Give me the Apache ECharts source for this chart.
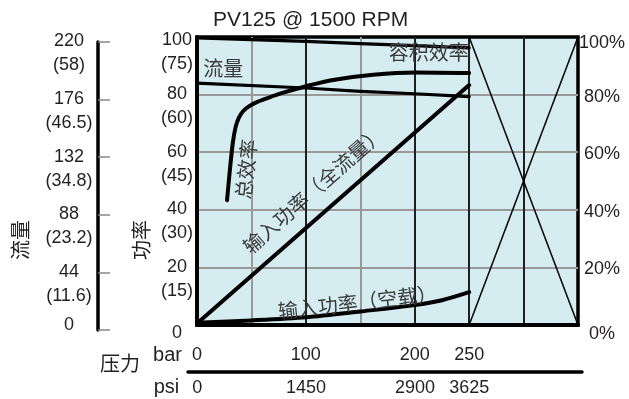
<!DOCTYPE html>
<html><head><meta charset="utf-8">
<script src="https://cdn.jsdelivr.net/npm/echarts@6/dist/echarts.min.js"></script>
<style>html,body{margin:0;padding:0;background:#fff}#c{width:629px;height:399px}</style>
</head><body><div id="c"></div><script>
// ---- chart data ----
const titleText = 'PV125 @ 1500 RPM';
const barTicks = [0, 100, 200, 250];
const psiTicks = [0, 1450, 2900, 3625];
const flowTicks = [0, 44, 88, 132, 176, 220];
const flowGpm = ['', '11.6', '23.2', '34.8', '46.5', '58'];
const powerTicks = [0, 20, 40, 60, 80, 100];
const powerHp = ['', '15', '30', '45', '60', '75'];
const majorBar = [100, 200, 250, 300];

const volEffX = [0, 100, 150, 200, 250];
const volEffY = [99.7, 98.5, 97.7, 97.0, 96.2];
const flowX = [0, 100, 150, 200, 250];
const flowY = [84.0, 82.3, 81.1, 80.3, 79.3];
const totEffX = [27.6, 30.5, 33.0, 35.5, 38.5, 42.5, 48.0, 55.0, 64.0, 77.6, 101.1, 125, 161.8, 201, 250];
const totEffY = [43.3, 55.0, 63.5, 68.8, 72.0, 74.3, 76.0, 77.4, 78.7, 80.5, 83.0, 85.1, 86.9, 87.7, 87.5];
const fullPowerX = [0, 250];
const fullPowerY = [0.5, 83.3];
const idlePowerX = [0, 50, 100, 150, 200, 225, 250];
const idlePowerY = [0.8, 1.6, 2.7, 4.7, 6.9, 8.6, 11.4];
const crossX = [250, 350];
const crossYa = [0, 100];
const crossYb = [100, 0];

const annotations = [
  { text: '容积效率', x: 213, y: 94.5, angle: 0 },
  { text: '流量', x: 24.1, y: 89, angle: 0 },
  { text: '总效率', x: 45.2, y: 54.1, angle: 84 },
  { text: '输入功率（全流量）', x: 107, y: 47, angle: 41.5 },
  { text: '输入功率（空载）', x: 147.5, y: 7.9, angle: 6.5 }
];

const LAT = 'Liberation Sans, Arial, sans-serif';
const CJK = 'Noto Sans CJK SC, sans-serif';
const TXT = '#231f20';
const zip = (xs, ys) => xs.map((x, i) => [x, ys[i]]);

const chart = echarts.init(document.getElementById('c'), null, { renderer: 'canvas' });

function curve(name, xs, ys, w, smooth) {
  return {
    name, type: 'line', xAxisIndex: 0, yAxisIndex: 0, data: zip(xs, ys),
    symbol: 'none', smooth: smooth || false, silent: true, z: 5,
    lineStyle: { color: '#000', width: w, cap: 'round', join: 'round' }
  };
}
// two-line label whose first line sits on the tick
const twoLineRich = {
  t: { lineHeight: 8, fontSize: 2 },
  a: { lineHeight: 47 },
  b: { lineHeight: 1 },
  s: { lineHeight: 17, fontSize: 2 },
  u: { lineHeight: 10, fontSize: 2 }
};

const option = {
  animation: false,
  title: {
    text: titleText, left: 213, top: 10, padding: 0,
    textStyle: { fontFamily: LAT, fontSize: 21, fontWeight: 'normal', color: TXT }
  },
  grid: [
    { left: 197, right: 51, top: 37, bottom: 74, show: true, backgroundColor: '#d5ecf1',
      borderColor: '#000', borderWidth: 3.5, containLabel: false, z: 0 },
    { left: 98, width: 1, top: 42, bottom: 69, containLabel: false },
    { left: 188, right: 47, top: 300, bottom: 27, containLabel: false }
  ],
  xAxis: [
    { type: 'value', gridIndex: 0, min: 0, max: 350, interval: 50, position: 'bottom',
      axisLine: { show: true, lineStyle: { color: '#000', width: 4 } }, axisTick: { show: false },
      splitLine: { show: true, showMinLine: false, showMaxLine: false, lineStyle: { color: '#999', width: 2 } },
      axisLabel: { customValues: barTicks, margin: 21, fontFamily: LAT, fontSize: 18, color: TXT,
        formatter: v => String(v) } },
    { type: 'value', gridIndex: 1, min: 0, max: 1, show: false },
    { type: 'value', gridIndex: 2, min: -124, max: 5127, position: 'bottom',
      axisLine: { show: true, lineStyle: { color: '#000', width: 3.5 } },
      axisTick: { show: false }, splitLine: { show: false },
      axisLabel: { customValues: psiTicks, margin: 7, fontFamily: LAT, fontSize: 18, color: TXT,
        formatter: v => String(v) } },
    { type: 'value', gridIndex: 0, min: 0, max: 350, position: 'top',
      axisLine: { show: true, lineStyle: { color: '#000', width: 3.5 } },
      axisTick: { show: false }, axisLabel: { show: false }, splitLine: { show: false } }
  ],
  yAxis: [
    { type: 'value', gridIndex: 0, min: 0, max: 100, interval: 20, position: 'left',
      axisLine: { show: true, lineStyle: { color: '#000', width: 3.5 } }, axisTick: { show: false },
      splitLine: { show: true, showMinLine: false, showMaxLine: false, lineStyle: { color: '#999', width: 2 } },
      axisLabel: {
        showMinLabel: true, showMaxLabel: true, hideOverlap: false,
        margin: 20, align: 'center', fontFamily: LAT, fontSize: 18, color: TXT,
        formatter: v => {
          const i = powerTicks.indexOf(v);
          if (v === 0) return '{s| }\n0';
          const body = '{a|' + v + '}\n{b|(' + powerHp[i] + ')}';
          return v === 100 ? '{t| }\n' + body : body;
        },
        rich: twoLineRich
      } },
    { type: 'value', gridIndex: 0, min: 0, max: 100, interval: 20, position: 'right',
      axisLine: { show: true, lineStyle: { color: '#000', width: 3.5 } }, axisTick: { show: false }, splitLine: { show: false },
      axisLabel: {
        showMinLabel: true, showMaxLabel: true, hideOverlap: false,
        margin: 24, align: 'center', fontFamily: LAT, fontSize: 18, color: TXT, lineHeight: 22,
        formatter: v => {
          const h = v === 0 ? 's0' : (v === 100 ? 's100' : 'sx');
          return '{' + h + '| }\n' + v + '%';
        },
        rich: { s0: { lineHeight: 18, fontSize: 2 }, s100: { lineHeight: 12, fontSize: 2 }, sx: { lineHeight: 4, fontSize: 2 } }
      } },
    { type: 'value', gridIndex: 1, min: 0, max: 220, interval: 44, position: 'left',
      axisLine: { show: true, lineStyle: { color: '#000', width: 3.5 } },
      axisTick: { show: true, inside: true, length: 12, lineStyle: { color: '#888', width: 1.5 } },
      splitLine: { show: false },
      axisLabel: {
        showMinLabel: true, showMaxLabel: true, hideOverlap: false,
        margin: 29, align: 'center', fontFamily: LAT, fontSize: 18, color: TXT, lineHeight: 23.5,
        formatter: v => {
          const i = flowTicks.indexOf(v);
          if (v === 0) return v + '\n{u| }';
          return '{a|' + v + '}\n{b|(' + flowGpm[i] + ')}';
        },
        rich: twoLineRich
      } },
    { type: 'value', gridIndex: 2, min: 0, max: 1, show: false }
  ],
  series: [
    {
      type: 'line', xAxisIndex: 0, yAxisIndex: 0, data: zip(crossX, crossYa), symbol: 'none',
      silent: true, z: 3, lineStyle: { color: '#000', width: 1.5 },
      markLine: {
        silent: true, symbol: ['none', 'none'], label: { show: false }, animation: false,
        lineStyle: { color: '#000', width: 1.6, type: 'solid' },
        data: majorBar.map(b => ({ xAxis: b }))
      }
    },
    { type: 'line', xAxisIndex: 0, yAxisIndex: 0, data: zip(crossX, crossYb), symbol: 'none',
      silent: true, z: 3, lineStyle: { color: '#000', width: 1.5 } },
    curve('容积效率', volEffX, volEffY, 3.2, false),
    curve('流量', flowX, flowY, 3.2, false),
    curve('总效率', totEffX, totEffY, 4, 0.3),
    curve('输入功率（全流量）', fullPowerX, fullPowerY, 4, false),
    curve('输入功率（空载）', idlePowerX, idlePowerY, 4, 0.3)
  ]
};
chart.setOption(option);

const graphics = annotations.map(a => {
  const p = chart.convertToPixel({ gridIndex: 0 }, [a.x, a.y]);
  return {
    type: 'text', x: p[0], y: p[1], rotation: a.angle * Math.PI / 180, z: 10, silent: true,
    style: { text: a.text, fill: '#3a3a3a', font: '20px ' + CJK, align: 'center', verticalAlign: 'middle' }
  };
});
graphics.push(
  { type: 'text', x: 20, y: 240, rotation: Math.PI / 2, silent: true,
    style: { text: '流量', fill: TXT, font: '20px ' + CJK, align: 'center', verticalAlign: 'middle' } },
  { type: 'text', x: 141, y: 240, rotation: Math.PI / 2, silent: true,
    style: { text: '功率', fill: TXT, font: '20px ' + CJK, align: 'center', verticalAlign: 'middle' } },
  { type: 'text', x: 120, y: 363, silent: true,
    style: { text: '压力', fill: TXT, font: '20px ' + CJK, align: 'center', verticalAlign: 'middle' } },
  { type: 'text', x: 167.5, y: 355, silent: true,
    style: { text: 'bar', fill: TXT, font: '20px ' + LAT, align: 'center', verticalAlign: 'middle' } },
  { type: 'text', x: 166.5, y: 387, silent: true,
    style: { text: 'psi', fill: TXT, font: '20px ' + LAT, align: 'center', verticalAlign: 'middle' } }
);
chart.setOption({ graphic: graphics });
</script></body></html>
